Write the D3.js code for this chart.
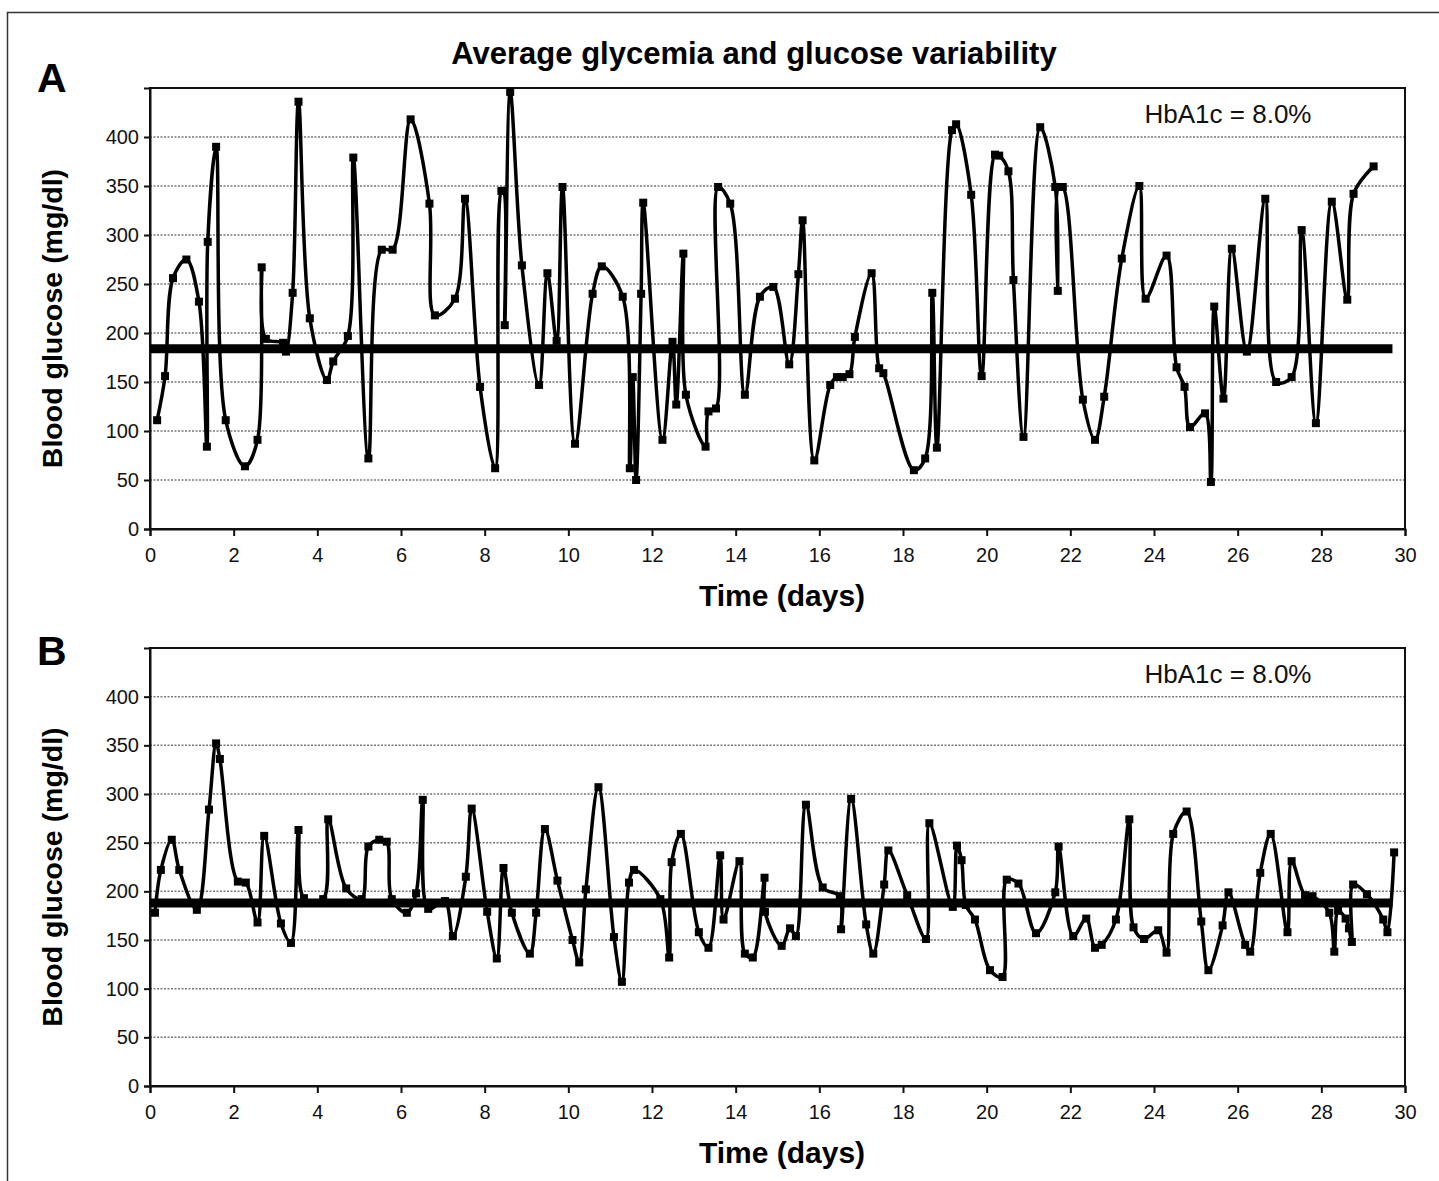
<!DOCTYPE html>
<html>
<head>
<meta charset="utf-8">
<script src="https://cdn.jsdelivr.net/npm/d3@7"></script>
<style>
  body { margin: 0; background: #fff; }
  text { font-family: "Liberation Sans", Arial, Helvetica, sans-serif; }
</style>
</head>
<body>
<script>
'use strict';

// panel A: days and glucose readings (mg/dl)
const daysA = [0.17, 0.36, 0.55, 0.87, 1.17, 1.36, 1.38, 1.58, 1.81, 2.27, 2.57, 2.67, 2.77, 3.18, 3.25, 3.41, 3.55, 3.82,
  4.23, 4.38, 4.73, 4.86, 5.22, 5.54, 5.80, 6.23, 6.68, 6.81, 7.29, 7.53, 7.89, 8.25, 8.40, 8.45, 8.48, 8.61, 8.89,
  9.30, 9.50, 9.72, 9.86, 10.16, 10.58, 10.80, 11.30, 11.47, 11.54, 11.62, 11.74, 11.79, 12.25, 12.49, 12.58, 12.75,
  12.81, 13.28, 13.35, 13.53, 13.58, 13.87, 14.22, 14.58, 14.90, 15.28, 15.50, 15.60, 15.88, 16.26, 16.42, 16.56,
  16.72, 16.85, 17.25, 17.43, 17.53, 18.26, 18.53, 18.70, 18.81, 19.17, 19.27, 19.63, 19.88, 20.20, 20.30, 20.52,
  20.64, 20.88, 21.28, 21.64, 21.70, 21.72, 21.82, 22.30, 22.59, 22.81, 23.23, 23.65, 23.80, 24.30, 24.54, 24.73,
  24.86, 25.22, 25.36, 25.44, 25.66, 25.86, 26.22, 26.66, 26.92, 27.29, 27.53, 27.87, 28.25, 28.62, 28.77, 29.25];
const glucoseA = [111, 156, 256, 275, 232, 84, 293, 390, 111, 64, 91, 267, 194, 190, 181, 241, 436, 215,
  152, 171, 197, 379, 72, 285, 285, 418, 332, 218, 235, 337, 145, 62, 345, 345, 208, 446, 269,
  147, 261, 192, 349, 87, 240, 268, 237, 62, 155, 50, 240, 333, 91, 191, 127, 281,
  137, 84, 120, 123, 349, 332, 137, 237, 247, 168, 260, 315, 70, 147, 155, 155,
  158, 196, 261, 164, 159, 60, 72, 241, 83, 407, 413, 341, 156, 382, 381, 365,
  254, 94, 410, 349, 243, 349, 349, 132, 91, 135, 276, 350, 235, 279, 165, 145,
  104, 118, 48, 227, 133, 286, 181, 337, 150, 155, 305, 108, 334, 234, 342, 370];

// panel B
const daysB = [0.12, 0.26, 0.52, 0.70, 1.12, 1.41, 1.58, 1.67, 2.10, 2.29, 2.57, 2.73, 3.13, 3.37, 3.55, 3.68, 4.14,
  4.26, 4.69, 5.06, 5.22, 5.48, 5.66, 5.78, 6.14, 6.36, 6.52, 6.65, 7.05, 7.24, 7.55, 7.69, 8.06, 8.29, 8.45, 8.65,
  9.08, 9.23, 9.44, 9.74, 10.10, 10.26, 10.42, 10.72, 11.09, 11.28, 11.45, 11.57, 12.20, 12.41, 12.47, 12.69, 13.12,
  13.35, 13.63, 13.71, 14.09, 14.22, 14.41, 14.69, 14.70, 15.10, 15.30, 15.44, 15.68, 16.08, 16.49, 16.52, 16.76,
  17.12, 17.29, 17.55, 17.65, 18.10, 18.55, 18.63, 19.19, 19.29, 19.40, 19.50, 19.72, 20.08, 20.38, 20.48, 20.76,
  21.18, 21.64, 21.72, 22.07, 22.38, 22.59, 22.75, 23.09, 23.41, 23.51, 23.76, 24.10, 24.30, 24.46, 24.78, 25.13,
  25.30, 25.64, 25.78, 26.18, 26.30, 26.54, 26.79, 27.19, 27.29, 27.61, 27.79, 28.19, 28.31, 28.40, 28.58, 28.66,
  28.73, 28.76, 29.09, 29.48, 29.58, 29.74];
const glucoseB = [178, 222, 253, 222, 181, 284, 352, 336, 210, 209, 168, 257, 167, 147, 263, 193, 192,
  274, 203, 192, 246, 253, 251, 192, 178, 198, 294, 182, 190, 154, 215, 285, 179, 131, 224, 178,
  136, 178, 264, 211, 150, 127, 202, 307, 153, 107, 209, 222, 192, 132, 230, 259, 158,
  142, 237, 171, 231, 136, 132, 214, 179, 144, 162, 154, 289, 204, 195, 161, 295,
  166, 136, 207, 242, 196, 151, 270, 184, 247, 232, 186, 171, 119, 112, 212, 208,
  157, 199, 246, 154, 172, 142, 145, 171, 274, 163, 151, 160, 137, 259, 282, 169,
  119, 165, 199, 145, 138, 219, 259, 158, 231, 196, 195, 178, 138, 180, 172, 162,
  148, 207, 197, 171, 158, 240];

const averages = [184, 188];
const avgEndDay = 29.7;
const panelLetters = ['A', 'B'];
const hba1cLabel = 'HbA1c = 8.0%';
const yTicks = d3.range(0, 401, 50);
const xTicks = d3.range(0, 31, 2);

const W = 1439, H = 1181;
const svg = d3.select('body').append('svg')
  .attr('width', W).attr('height', H);

svg.append('rect').attr('width', W).attr('height', H).attr('fill', '#fff');
// outer frame of the figure
svg.append('rect')
  .attr('x', 7.5).attr('y', 12.5).attr('width', 1450).attr('height', 1200)
  .attr('fill', 'none').attr('stroke', '#333').attr('stroke-width', 1.5);

svg.append('text')
  .attr('x', 754).attr('y', 64)
  .attr('text-anchor', 'middle')
  .style('font-size', '31px').style('font-weight', 'bold')
  .text('Average glycemia and glucose variability');

const panels = [
  { days: daysA, values: glucoseA, top: 88, bottom: 529, letterY: 92 },
  { days: daysB, values: glucoseB, top: 648, bottom: 1086, letterY: 665 }
];

panels.forEach((p, k) => {
  const x = d3.scaleLinear().domain([0, 30]).range([150, 1405]);
  const y = d3.scaleLinear().domain([0, 450]).range([p.bottom, p.top]);
  const g = svg.append('g');

  // dotted grid
  g.selectAll('line.grid')
    .data(yTicks.filter(v => v > 0))
    .enter().append('line')
    .attr('x1', x(0)).attr('x2', x(30))
    .attr('y1', d => y(d)).attr('y2', d => y(d))
    .attr('stroke', '#777').attr('stroke-width', 1.5)
    .attr('stroke-dasharray', '2,1.5');

  // plot box
  g.append('rect')
    .attr('x', x(0)).attr('y', y(450))
    .attr('width', x(30) - x(0)).attr('height', y(0) - y(450))
    .attr('fill', 'none').attr('stroke', '#111').attr('stroke-width', 2);

  const yAxis = g.append('g')
    .attr('transform', `translate(${x(0)},0)`)
    .call(d3.axisLeft(y).tickValues(yTicks).tickSize(6).tickPadding(5));
  const xAxis = g.append('g')
    .attr('transform', `translate(0,${y(0)})`)
    .call(d3.axisBottom(x).tickValues(xTicks).tickSize(7).tickPadding(12));
  [yAxis, xAxis].forEach(a => {
    a.select('.domain').attr('stroke', '#111').attr('stroke-width', 2);
    a.selectAll('.tick line').attr('stroke', '#111').attr('stroke-width', 2);
    a.selectAll('.tick text')
      .style('font-size', '20px')
      .style('font-family', '"Liberation Sans", Arial, sans-serif')
      .attr('fill', '#111');
  });

  // mean glucose line
  g.append('line')
    .attr('x1', x(0)).attr('x2', x(avgEndDay))
    .attr('y1', y(averages[k])).attr('y2', y(averages[k]))
    .attr('stroke', '#000').attr('stroke-width', 9);

  const pts = p.days.map((d, i) => [d, p.values[i]]);
  const line = d3.line()
    .x(d => x(d[0])).y(d => y(d[1]))
    .curve(d3.curveCatmullRom.alpha(0.5));
  g.append('path')
    .datum(pts)
    .attr('d', line)
    .attr('fill', 'none').attr('stroke', '#000')
    .attr('stroke-width', 3.5).attr('stroke-linejoin', 'round');

  g.selectAll('rect.pt')
    .data(pts)
    .enter().append('rect')
    .attr('class', 'pt')
    .attr('x', d => x(d[0]) - 4).attr('y', d => y(d[1]) - 4)
    .attr('width', 8).attr('height', 8)
    .attr('fill', '#000');

  // labels
  svg.append('text')
    .attr('x', 37).attr('y', p.letterY)
    .style('font-size', '41px').style('font-weight', 'bold')
    .text(panelLetters[k]);

  svg.append('text')
    .attr('transform', `translate(62,${(y(0) + y(450)) / 2 + 10}) rotate(-90)`)
    .attr('text-anchor', 'middle')
    .style('font-size', '28.5px').style('font-weight', 'bold')
    .text('Blood glucose (mg/dl)');

  svg.append('text')
    .attr('x', 782).attr('y', y(0) + 77)
    .attr('text-anchor', 'middle')
    .style('font-size', '30px').style('font-weight', 'bold')
    .text('Time (days)');

  svg.append('text')
    .attr('x', 1228).attr('y', y(450) + 35)
    .attr('text-anchor', 'middle')
    .style('font-size', '26px')
    .attr('fill', '#111')
    .text(hba1cLabel);
});
</script>
</body>
</html>
